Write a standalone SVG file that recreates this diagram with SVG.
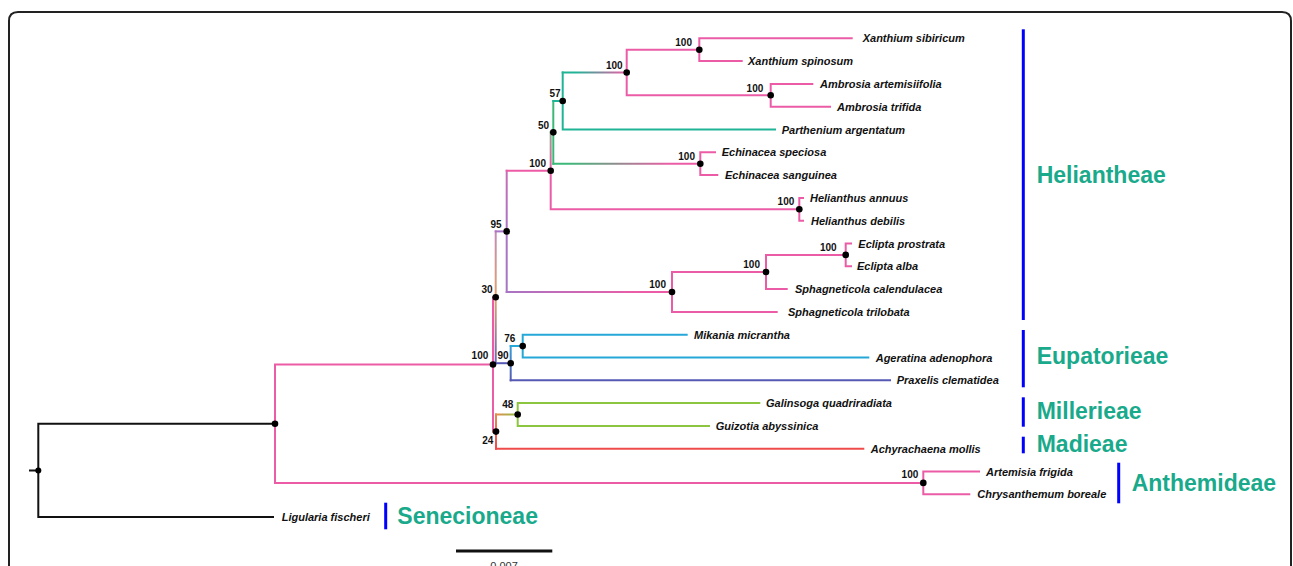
<svg xmlns="http://www.w3.org/2000/svg" width="1293" height="566" viewBox="0 0 1293 566">
<style>
.b{fill:none;stroke-width:2;stroke-linecap:square}
.pk{stroke:#ec5ca6}.tl{stroke:#1fb496}.gr{stroke:#3cb878}.cy{stroke:#25a8d8}
.sl{stroke:#5559b3}.lg{stroke:#8cc640}.rd{stroke:#ef4b4b}.pu{stroke:#a874c4}.bk{stroke:#111}
.tip{font-family:"Liberation Sans",Arial,sans-serif;font-size:11px;font-weight:bold;font-style:italic;fill:#111}
.bs{font-family:"Liberation Sans",Arial,sans-serif;font-size:10px;font-weight:bold;fill:#111;text-anchor:end}
.cl{font-family:"Liberation Sans",Arial,sans-serif;font-size:23px;font-weight:bold;fill:#19a98b}
.bar{fill:#0000ff}
.dot{fill:#000}
</style>
<defs>
<linearGradient id="gTP" gradientUnits="userSpaceOnUse" x1="562.7" y1="0" x2="626.7" y2="0"><stop offset="0.2" stop-color="#1fb496"/><stop offset="1" stop-color="#ec5ca6"/></linearGradient>
<linearGradient id="gGP" gradientUnits="userSpaceOnUse" x1="553.3" y1="0" x2="700.3" y2="0"><stop offset="0.1" stop-color="#3cb878"/><stop offset="0.8" stop-color="#ec5ca6"/></linearGradient>
<linearGradient id="gPP" gradientUnits="userSpaceOnUse" x1="506.7" y1="0" x2="672" y2="0"><stop offset="0" stop-color="#a874c4"/><stop offset="0.8" stop-color="#ec5ca6"/></linearGradient>
<linearGradient id="gV100a" gradientUnits="userSpaceOnUse" x1="0" y1="132" x2="0" y2="171"><stop offset="0" stop-color="#8fa88e"/><stop offset="1" stop-color="#ec5ca6"/></linearGradient>
<linearGradient id="gV95" gradientUnits="userSpaceOnUse" x1="0" y1="171" x2="0" y2="292"><stop offset="0" stop-color="#c66db6"/><stop offset="0.5" stop-color="#a874c4"/><stop offset="1" stop-color="#a874c4"/></linearGradient>
<linearGradient id="gV30" gradientUnits="userSpaceOnUse" x1="0" y1="231" x2="0" y2="364"><stop offset="0" stop-color="#c08cb8"/><stop offset="0.5" stop-color="#e3a06a"/><stop offset="1" stop-color="#6a64b8"/></linearGradient>
<linearGradient id="gV24" gradientUnits="userSpaceOnUse" x1="0" y1="414" x2="0" y2="449"><stop offset="0" stop-color="#e58a50"/><stop offset="1" stop-color="#ef4b4b"/></linearGradient>
<linearGradient id="gO24" gradientUnits="userSpaceOnUse" x1="496" y1="0" x2="517.7" y2="0"><stop offset="0" stop-color="#e58a50"/><stop offset="1" stop-color="#8cc640"/></linearGradient>
<linearGradient id="gV90" gradientUnits="userSpaceOnUse" x1="0" y1="346" x2="0" y2="381"><stop offset="0" stop-color="#3a9fd8"/><stop offset="1" stop-color="#5559b3"/></linearGradient>
</defs>
<rect width="1293" height="566" fill="#fff"/>
<path d="M9,566 V21 Q9,12 18,12 H1282 Q1291,12 1291,21 V566" fill="none" stroke="#222" stroke-width="2"/>

<g id="connectors">
<!-- root -->
<path class="b bk" d="M30,470.4 H38.3 M38.3,423.7 V517.1 M38.3,423.7 H275 M38.3,517.1 H273"/>
<!-- pink core -->
<path class="b pk" d="M275,364.45 V482.9 M275,364.45 H493 M275,482.9 H923.3"/>
<path class="b pk" d="M923.3,471.5 V494.3 M923.3,471.5 H979 M923.3,494.3 H969.3"/>
<!-- 100 root node vertical -->
<path class="b pk" d="M493,297.3 V431.6"/>
<path class="b" stroke="#e58a50" d="M493,431.6 H496"/>
<!-- 30 node -->
<path class="b" stroke="url(#gV30)" d="M495.7,231.4 V363.2"/>
<path class="b pu" d="M495.7,231.4 H506.7"/>
<path class="b sl" d="M495.7,363.2 H510.7"/>
<!-- 95 node -->
<path class="b" stroke="url(#gV95)" d="M506.7,170.8 V291.95"/>
<path class="b pk" d="M506.7,170.8 H550.7"/>
<path class="b" stroke="url(#gPP)" d="M506.7,291.95 H672"/>
<!-- 100a node -->
<path class="b" stroke="url(#gV100a)" d="M550.7,132.35 V171"/>
<path class="b pk" d="M550.7,170.8 V209.3 M550.7,209.3 H799.3"/>
<path class="b" stroke="#6fae86" d="M550.7,132.35 H553.3"/>
<!-- 50 node -->
<path class="b gr" d="M553.3,101 V163.7"/>
<path class="b tl" d="M553.3,101 H562.7"/>
<path class="b" stroke="url(#gGP)" d="M553.3,163.7 H700.3"/>
<!-- 57 node -->
<path class="b tl" d="M562.7,72.5 V129.5 M562.7,129.5 H775"/>
<path class="b" stroke="url(#gTP)" d="M562.7,72.5 H626.7"/>
<!-- Xanthium/Ambrosia -->
<path class="b pk" d="M626.7,49.7 V95.3 M626.7,49.7 H699.3 M626.7,95.3 H770.7"/>
<path class="b pk" d="M699.3,38.3 V61.1 M699.3,38.3 H851.7 M699.3,61.1 H741.7"/>
<path class="b pk" d="M770.7,83.9 V106.7 M770.7,83.9 H812.3 M770.7,106.7 H830"/>
<!-- Echinacea -->
<path class="b pk" d="M700.3,152.3 V175.1 M700.3,152.3 H715 M700.3,175.1 H717.3"/>
<!-- Helianthus -->
<path class="b pk" d="M799.3,197.9 V220.7 M799.3,197.9 H803 M799.3,220.7 H803"/>
<!-- Sphagneticola -->
<path class="b pk" d="M672,272 V311.9 M672,272 H766 M672,311.9 H776.7"/>
<path class="b pk" d="M766,254.9 V289.1 M766,254.9 H845.7 M766,289.1 H786.7"/>
<path class="b pk" d="M845.7,243.5 V266.3 M845.7,243.5 H851 M845.7,266.3 H851"/>
<!-- Eupatorieae -->
<path class="b" stroke="url(#gV90)" d="M510.7,346.1 V380.3"/>
<path class="b sl" d="M510.7,380.3 H890"/>
<path class="b cy" d="M510.7,346.1 H522.7 M522.7,334.7 V357.5 M522.7,334.7 H686.7 M522.7,357.5 H868.3"/>
<!-- Millerieae / Madieae -->
<path class="b" stroke="url(#gV24)" d="M496,414.5 V448.7"/>
<path class="b" stroke="url(#gO24)" d="M496,414.5 H517.7"/>
<path class="b rd" d="M496,448.7 H863.3"/>
<path class="b lg" d="M517.7,403.1 V425.9 M517.7,403.1 H759.3 M517.7,425.9 H709"/>
</g>

<g id="nodes">
<g id="n-root"><circle class="dot" cx="38.3" cy="470.4" r="3"/></g>
<g id="n-ast"><circle class="dot" cx="275" cy="423.7" r="3.3"/></g>
<g id="n-100r"><circle class="dot" cx="493" cy="364.45" r="3.3"/><text class="bs" x="488.3" y="359">100</text></g>
<g id="n-30"><circle class="dot" cx="495.7" cy="297.3" r="3.3"/><text class="bs" x="492.7" y="293.3">30</text></g>
<g id="n-95"><circle class="dot" cx="506.7" cy="231.4" r="3.3"/><text class="bs" x="501.7" y="228.3">95</text></g>
<g id="n-100a"><circle class="dot" cx="550.7" cy="170.8" r="3.3"/><text class="bs" x="546" y="167">100</text></g>
<g id="n-50"><circle class="dot" cx="553.3" cy="132.35" r="3.3"/><text class="bs" x="549" y="128.5">50</text></g>
<g id="n-57"><circle class="dot" cx="562.7" cy="101" r="3.3"/><text class="bs" x="560.7" y="96.7">57</text></g>
<g id="n-xa"><circle class="dot" cx="626.7" cy="72.5" r="3.3"/><text class="bs" x="622.7" y="68.7">100</text></g>
<g id="n-x"><circle class="dot" cx="699.3" cy="49.7" r="3.3"/><text class="bs" x="692" y="46">100</text></g>
<g id="n-a"><circle class="dot" cx="770.7" cy="95.3" r="3.3"/><text class="bs" x="763.3" y="92.3">100</text></g>
<g id="n-e"><circle class="dot" cx="700.3" cy="163.7" r="3.3"/><text class="bs" x="695" y="160">100</text></g>
<g id="n-h"><circle class="dot" cx="799.3" cy="209.3" r="3.3"/><text class="bs" x="794.3" y="205.3">100</text></g>
<g id="n-s"><circle class="dot" cx="672" cy="291.95" r="3.3"/><text class="bs" x="666" y="288.3">100</text></g>
<g id="n-in"><circle class="dot" cx="766" cy="272" r="3.3"/><text class="bs" x="760" y="268.3">100</text></g>
<g id="n-ec"><circle class="dot" cx="845.7" cy="254.9" r="3.3"/><text class="bs" x="836.7" y="250.7">100</text></g>
<g id="n-90"><circle class="dot" cx="510.7" cy="363.2" r="3.3"/><text class="bs" x="508.7" y="359">90</text></g>
<g id="n-76"><circle class="dot" cx="522.7" cy="346.1" r="3.3"/><text class="bs" x="515.3" y="342.3">76</text></g>
<g id="n-24"><circle class="dot" cx="496" cy="431.6" r="3.3"/><text class="bs" x="493.3" y="444">24</text></g>
<g id="n-48"><circle class="dot" cx="517.7" cy="414.5" r="3.3"/><text class="bs" x="513.3" y="408.3">48</text></g>
<g id="n-an"><circle class="dot" cx="923.3" cy="482.9" r="3.3"/><text class="bs" x="918.3" y="478.3">100</text></g>
</g>

<g id="tips">
<text class="tip" x="862.7" y="42.3">Xanthium sibiricum</text>
<text class="tip" x="748" y="65.1">Xanthium spinosum</text>
<text class="tip" x="820" y="87.9">Ambrosia artemisiifolia</text>
<text class="tip" x="837" y="110.7">Ambrosia trifida</text>
<text class="tip" x="781.7" y="133.5">Parthenium argentatum</text>
<text class="tip" x="721.7" y="156.3">Echinacea speciosa</text>
<text class="tip" x="725" y="179.1">Echinacea sanguinea</text>
<text class="tip" x="810" y="201.9">Helianthus annuus</text>
<text class="tip" x="811" y="224.7">Helianthus debilis</text>
<text class="tip" x="858.3" y="247.5">Eclipta prostrata</text>
<text class="tip" x="857" y="270.3">Eclipta alba</text>
<text class="tip" x="795" y="293.1">Sphagneticola calendulacea</text>
<text class="tip" x="788" y="315.9">Sphagneticola trilobata</text>
<text class="tip" x="694" y="338.7">Mikania micrantha</text>
<text class="tip" x="875.7" y="361.5">Ageratina adenophora</text>
<text class="tip" x="896.7" y="384.3">Praxelis clematidea</text>
<text class="tip" x="766" y="407.1">Galinsoga quadriradiata</text>
<text class="tip" x="715.7" y="429.9">Guizotia abyssinica</text>
<text class="tip" x="870.7" y="452.7">Achyrachaena mollis</text>
<text class="tip" x="986" y="475.5">Artemisia frigida</text>
<text class="tip" x="977.3" y="498.3">Chrysanthemum boreale</text>
<text class="tip" x="281.7" y="521.1">Ligularia fischeri</text>
</g>

<g id="clades">
<g id="c-heliantheae"><rect class="bar" x="1021.8" y="29.3" width="3" height="290.7"/><text class="cl" x="1036.7" y="182.7">Heliantheae</text></g>
<g id="c-eupatorieae"><rect class="bar" x="1021.8" y="330" width="3" height="57.3"/><text class="cl" x="1036.7" y="364">Eupatorieae</text></g>
<g id="c-millerieae"><rect class="bar" x="1021.8" y="397.3" width="3" height="29.4"/><text class="cl" x="1036.7" y="419.3">Millerieae</text></g>
<g id="c-madieae"><rect class="bar" x="1021.8" y="436.7" width="3" height="16.6"/><text class="cl" x="1036.7" y="452">Madieae</text></g>
<g id="c-anthemideae"><rect class="bar" x="1117.2" y="462.7" width="3" height="40.6"/><text class="cl" x="1131.7" y="491">Anthemideae</text></g>
<g id="c-senecioneae"><rect class="bar" x="384.2" y="502.7" width="3" height="26.6"/><text class="cl" x="397.3" y="524">Senecioneae</text></g>
</g>

<g id="scale">
<line x1="456" y1="551" x2="552.3" y2="551" stroke="#111" stroke-width="3"/>
<text x="504" y="570" text-anchor="middle" font-family="'Liberation Sans',Arial,sans-serif" font-size="11" fill="#333">0.007</text>
</g>
</svg>
